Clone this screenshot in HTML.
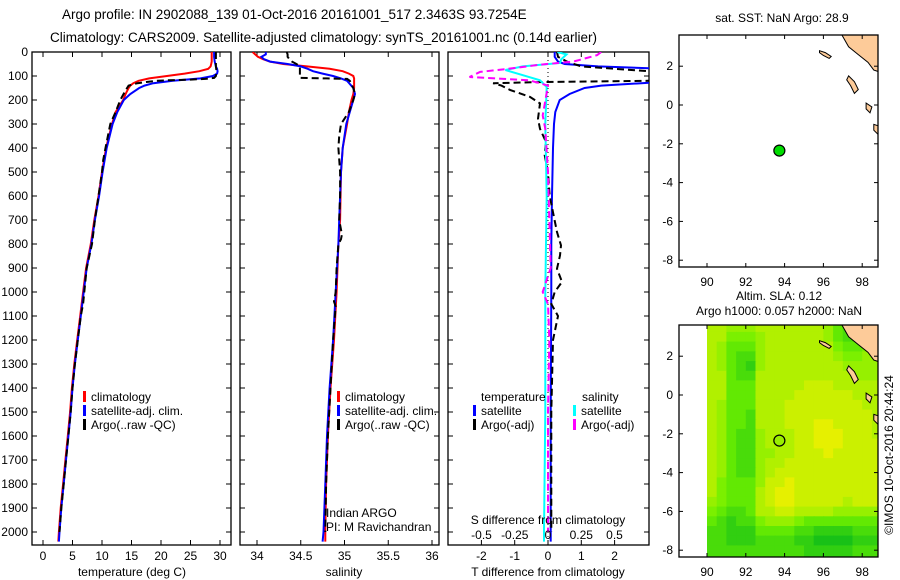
<!DOCTYPE html>
<html><head><meta charset="utf-8"><style>
html,body{margin:0;padding:0;background:#fff;}
svg{display:block;font-family:"Liberation Sans",sans-serif;}
</style></head><body>
<svg id="fig" width="900" height="580" viewBox="0 0 900 580" xmlns="http://www.w3.org/2000/svg">
<text x="62" y="19" font-size="13.5">Argo profile: IN 2902088_139 01-Oct-2016 20161001_517 2.3463S 93.7254E</text>
<text x="50" y="42" font-size="13.5">Climatology: CARS2009. Satellite-adjusted climatology: synTS_20161001.nc (0.14d earlier)</text>
<text transform="translate(893,455) rotate(-90)" text-anchor="middle" font-size="12">©IMOS 10-Oct-2016 20:44:24</text>
</svg>
<script>
// ---------- data ----------
const depthTicks=[0,100,200,300,400,500,600,700,800,900,1000,1100,1200,1300,1400,1500,1600,1700,1800,1900,2000];
const tempTicks=[0,5,10,15,20,25,30];
const salTicks=[34,34.5,35,35.5,36];
const tdiffTicks=[-2,-1,0,1,2];
const sdiffTicks=[-0.5,-0.25,0,0.25,0.5];
const sdiffTickLabels=["-0.5","-0.25","0","0.25","0.5"];
const lonTicks=[90,92,94,96,98];
const latTicks=[2,0,-2,-4,-6,-8];

const depthsT=[0,20,40,50,60,70,80,90,100,110,120,130,140,150,175,200,250,300,400,500,600,700,800,900,1000,1100,1200,1300,1400,1500,1600,1700,1800,1900,2000,2040];
const climT=[28.6,28.6,28.6,28.5,28.4,28.0,26.5,24,21,18,16.2,15.3,14.8,14.5,14.0,13.6,12.3,11.7,10.7,10.0,9.4,8.7,8.1,7.3,6.8,6.3,5.8,5.3,4.9,4.6,4.2,3.8,3.4,3.0,2.7,2.6];
const satT=[29.0,29.0,29.1,29.2,29.3,29.5,29.6,29.5,28.8,26.7,22,18.7,17.2,16.3,14.8,13.7,12.6,11.8,10.8,10.1,9.5,8.8,8.2,7.4,6.9,6.4,5.9,5.4,5.0,4.7,4.3,3.9,3.5,3.1,2.8,2.7];
const depthsArgoT=[0,20,40,60,80,100,108,112,115,118,120,125,130,140,160,200,250,300,350,400,450,500,600,700,800,900,1000,1050,1100,1200,1300,1400,1500,1600,1700,1800,1900,2000];
const argoT=[29.3,29.3,29.3,29.3,29.4,29.3,29.0,27.5,25,21,19.4,17.5,16,14.5,14.0,13.1,12.3,11.4,11.0,10.6,10.2,10.0,9.4,8.8,8.3,7.4,7.0,6.8,6.4,5.9,5.4,5.0,4.7,4.3,3.9,3.5,3.1,2.8];

const depthsS=[0,10,20,30,40,50,60,70,80,90,100,110,120,150,175,200,250,300,400,500,700,800,1000,1200,1400,1600,1800,2000,2040];
const climS=[33.95,33.98,34.01,34.07,34.15,34.3,34.57,34.83,34.98,35.05,35.1,35.11,35.11,35.11,35.1,35.08,35.05,35.03,34.98,34.96,34.95,34.93,34.91,34.88,34.84,34.81,34.79,34.78,34.78];
const satS=[34.1,34.1,34.05,34.08,34.15,34.35,34.5,34.58,34.64,34.75,34.87,34.96,35.03,35.1,35.12,35.1,35.06,35.02,34.98,34.96,34.94,34.93,34.9,34.87,34.83,34.8,34.78,34.76,34.75];
const depthsArgoS=[0,10,20,30,40,50,60,80,100,108,110,112,120,150,175,200,250,300,350,400,500,600,700,760,780,800,900,1000,1040,1060,1100,1200,1400,1600,1800,2000];
const argoS=[34.34,34.35,34.35,34.37,34.4,34.45,34.49,34.49,34.49,34.49,34.8,35.03,35.06,35.1,35.12,35.1,35.05,34.96,34.94,34.93,34.95,34.95,34.94,34.97,34.96,34.93,34.91,34.9,34.88,34.9,34.89,34.87,34.84,34.81,34.79,34.78];

const depthsSatDT=[0,20,40,50,60,70,80,90,100,110,120,130,140,150,175,200,250,300,400,600,800,1000,1500,2000,2040];
const satDT=[0.2,0.2,0.3,0.5,1.5,3.5,5,5,5,5,4,2.8,1.6,1.1,0.65,0.35,0.22,0.18,0.15,0.12,0.1,0.1,0.08,0.08,0.08];
const depthsArgoDT=[0,20,40,60,80,100,115,120,125,130,140,158,187,214,278,320,375,430,500,600,750,806,848,903,958,1000,1050,1100,1200,1500,2000];
const argoDT=[0.27,0.3,0.57,1,3,8,8,3,-0.1,-1.65,-1.4,-1.14,-0.54,-0.24,-0.3,-0.24,-0.06,-0.1,0,0.05,0.27,0.39,0.36,0.27,0.42,0.2,0.1,0.3,0.15,0.1,0.1];
const depthsSatDS=[0,10,30,46,60,75,90,118,146,300,600,1000,1500,2000,2040];
const satDS=[0.07,0.14,0.1,0.09,-0.19,-0.32,-0.23,-0.06,-0.01,-0.02,-0.01,-0.02,-0.02,-0.03,-0.03];
const depthsArgoDS=[0,13,40,53,70,83,104,118,140,264,320,500,700,900,1000,1050,1200,1500,2000];
const argoDS=[0.4,0.37,0.19,-0.06,-0.3,-0.51,-0.59,-0.14,0,-0.04,-0.02,0,0.01,0.02,-0.04,0.0,0.01,0.0,0.0];

const floatLon=93.73, floatLat=-2.35;
const slaLat0=3.5, slaLon0=90, slaStep=0.5;
const slaRows=[
"776667777777643333","775556777777643344","764446777777754455","764336777777765566",
"764326777777776666","774337777777777666","774447777788877777","774447777888888777",
"764447778888888877","764437778888888887","764437778889988887","764336777889998887",
"764336777889998888","764336677888988888","764336778888888888","764336788888888888",
"754446889888888888","754447899888888888","654447899888887888","543347788777766666",
"432335666544444444","332224444332222333","332223333221111222","333333333322222333",
"333333333322222333"];
const landPolys=[
[[96.9,3.7],[97.3,3.0],[97.8,2.6],[98.3,2.2],[98.6,1.8],[98.9,1.7],[98.9,3.7]],
[[95.8,2.8],[96.1,2.7],[96.4,2.5],[96.3,2.4],[96.0,2.55],[95.8,2.7]],
[[97.3,1.5],[97.6,1.2],[97.8,0.8],[97.6,0.6],[97.4,1.0],[97.2,1.3]],
[[98.2,0.1],[98.5,-0.1],[98.4,-0.4],[98.2,-0.2]],
[[98.6,-1.0],[98.9,-1.1],[98.9,-1.6],[98.6,-1.3]]];

// ---------- helpers ----------
const NS="http://www.w3.org/2000/svg";
const svg=document.getElementById('fig');
function mk(tag,attrs,parent){const e=document.createElementNS(NS,tag);for(const k in attrs)e.setAttribute(k,attrs[k]);(parent||svg).appendChild(e);return e;}
function txt(s,x,y,anchor,size,parent){const t=mk('text',{x:x,y:y,'text-anchor':anchor||'start','font-size':size||12},parent);t.textContent=s;return t;}
const yD=d=>52+d*0.24;
const PT=52,PB=545;
const xT=v=>43+v*5.9;
const xS=v=>257+(v-34)*87.5;
const xDT=v=>548+v*33.3;
const xDS=v=>548+v*133;

const defs=mk('defs',{});
function clip(id,x,y,w,h){const c=mk('clipPath',{id:id},defs);mk('rect',{x:x,y:y,width:w,height:h},c);}
clip('c1',32,52,199,493);clip('c2',240,52,199,493);clip('c3',448,52,201,493);
clip('cm1',679,35,199,232);clip('cm2',679,325,199,232);

function panelFrame(name,x0,x1){
  const r=mk('rect',{x:x0,y:PT,width:x1-x0,height:PB-PT,fill:'none',stroke:'#000','stroke-width':1.3});
  
  
  depthTicks.forEach(d=>{
    mk('line',{x1:x0,x2:x0+5,y1:yD(d),y2:yD(d),stroke:'#000'});
    mk('line',{x1:x1-5,x2:x1,y1:yD(d),y2:yD(d),stroke:'#000'});
  });
}
function xTicks(vals,fx){vals.forEach(v=>{const x=fx(v);mk('line',{x1:x,x2:x,y1:PT,y2:PT+5,stroke:'#000'});mk('line',{x1:x,x2:x,y1:PB-5,y2:PB,stroke:'#000'});});}
function line(name,xs,ds,fx,color,dash,clipId){
  const pts=xs.map((v,i)=>fx(v).toFixed(1)+','+yD(ds[i]).toFixed(1)).join(' ');
  const p=mk('polyline',{points:pts,fill:'none',stroke:color,'stroke-width':2,'clip-path':'url(#'+clipId+')'});
  if(dash)p.setAttribute('stroke-dasharray',dash);
  
  
}
function legendItem(name,x,y,color,label){
  const g=mk('g',{});
  
  
  mk('rect',{x:x,y:y-10,width:3,height:11,fill:color},g);
  txt(label,x+8,y,'start',12,g);
}

// ---------- panel 1: temperature ----------
panelFrame('temperature-panel',32,231);
xTicks(tempTicks,xT);
depthTicks.forEach(d=>{const t=txt(String(d),28,yD(d)+4,'end',12);});
tempTicks.forEach(v=>{const t=txt(String(v),xT(v),560,'middle',12);});
line('temp-climatology',climT,depthsT,xT,'#ff0000',null,'c1');
line('temp-satellite-adj',satT,depthsT,xT,'#0000ff',null,'c1');
line('temp-argo',argoT,depthsArgoT,xT,'#000',"7,4",'c1');
{const t=txt('temperature (deg C)',132,576,'middle',12);}
legendItem('legend-climatology',83,401,'#ff0000','climatology');
legendItem('legend-satellite-adj',83,415,'#0000ff','satellite-adj. clim.');
legendItem('legend-argo',83,429,'#000','Argo(..raw -QC)');

// ---------- panel 2: salinity ----------
panelFrame('salinity-panel',240,439);
xTicks(salTicks,xS);
salTicks.forEach(v=>{const t=txt(String(v),xS(v),560,'middle',12);});
line('sal-climatology',climS,depthsS,xS,'#ff0000',null,'c2');
line('sal-satellite-adj',satS,depthsS,xS,'#0000ff',null,'c2');
line('sal-argo',argoS,depthsArgoS,xS,'#000',"7,4",'c2');
{const t=txt('salinity',344,576,'middle',12);}
legendItem('legend-sal-climatology',337,401,'#ff0000','climatology');
legendItem('legend-sal-satellite-adj',337,415,'#0000ff','satellite-adj. clim.');
legendItem('legend-sal-argo',337,429,'#000','Argo(..raw -QC)');
{const t=txt('Indian ARGO',326,517,'start',12);}
{const t=txt('PI: M Ravichandran',326,531,'start',12);}

// ---------- panel 3: differences ----------
panelFrame('difference-panel',448,649);
xTicks(tdiffTicks,xDT);
mk('line',{x1:548,x2:548,y1:PT,y2:PB,stroke:'#000','stroke-dasharray':'1,3'});
line('tdiff-satellite',satDT,depthsSatDT,xDT,'#0000ff',null,'c3');
line('tdiff-argo',argoDT,depthsArgoDT,xDT,'#000',"7,4",'c3');
line('sdiff-satellite',satDS,depthsSatDS,xDS,'#00ffff',null,'c3');
line('sdiff-argo',argoDS,depthsArgoDS,xDS,'#ff00ff',"7,4",'c3');
tdiffTicks.forEach(v=>{const t=txt(String(v),xDT(v),560,'middle',12);});
sdiffTicks.forEach((v,i)=>{const t=txt(sdiffTickLabels[i],xDS(v),539,'middle',12);});
{const t=txt('S difference from climatology',548,524,'middle',12);}
{const t=txt('T difference from climatology',548,576,'middle',12);}
{const t=txt('temperature',481,401,'start',12);}
{const t=txt('salinity',582,401,'start',12);}
legendItem('legend-tdiff-satellite',473,415,'#0000ff','satellite');
legendItem('legend-tdiff-argo',473,429,'#000','Argo(-adj)');
legendItem('legend-sdiff-satellite',573,415,'#00ffff','satellite');
legendItem('legend-sdiff-argo',573,429,'#ff00ff','Argo(-adj)');

// ---------- maps ----------
const xLon=v=>707+(v-90)*19.4;
function mapPanel(name,y0,clipId,heat,dotFill){
  const yLat=v=>y0+105-v*19.4;
  const g=mk('g',{});
  
  
  if(heat){
    slaRows.forEach((row,r)=>{
      for(let c=0;c<row.length;c++){
        const v=+row[c]/9;
        let R,G,B;
        if(v<0.5){const t=v/0.5;R=0+110*t;G=180+60*t;B=30-30*t;}else{const t=(v-0.5)/0.5;R=110+120*t;G=240;B=0;}
        const lat=slaLat0-r*slaStep, lon=slaLon0+c*slaStep;
        const cell=mk('rect',{x:xLon(lon).toFixed(1),y:yLat(lat+0.25).toFixed(1),width:10.5,height:10.5,fill:'rgb('+R.toFixed(0)+','+G.toFixed(0)+','+B.toFixed(0)+')','clip-path':'url(#'+clipId+')'},g);
        
        
      }
    });
  }
  landPolys.forEach(poly=>{
    const p=mk('polygon',{points:poly.map(q=>xLon(q[0]).toFixed(1)+','+yLat(q[1]).toFixed(1)).join(' '),fill:'#fdcb99',stroke:'#000','stroke-width':1,'clip-path':'url(#'+clipId+')'},g);
    
    
  });
  mk('rect',{x:679,y:y0+35,width:199,height:232,fill:'none',stroke:'#000','stroke-width':1.3},g);
  lonTicks.forEach(v=>{const x=xLon(v);mk('line',{x1:x,x2:x,y1:y0+35,y2:y0+39,stroke:'#000'},g);mk('line',{x1:x,x2:x,y1:y0+263,y2:y0+267,stroke:'#000'},g);
    const t=txt(String(v),x,y0+286,'middle',12,g);});
  latTicks.forEach(v=>{const y=yLat(v);mk('line',{x1:679,x2:683,y1:y,y2:y,stroke:'#000'},g);mk('line',{x1:874,x2:878,y1:y,y2:y,stroke:'#000'},g);
    const t=txt(String(v),673,y+4,'end',12,g);});
  const dot=mk('circle',{cx:xLon(floatLon),cy:yLat(floatLat),r:5.5,fill:dotFill,stroke:'#000','stroke-width':1.2},g);
  
  
}
mapPanel('sst-map',0,'cm1',false,'#00dd00');
{const t=txt('sat. SST: NaN Argo: 28.9',782,22,'middle',12);}
mapPanel('sla-map',290,'cm2',true,'#99ee00');
{const t=txt('Altim. SLA: 0.12',779,300,'middle',12);}
{const t=txt('Argo h1000: 0.057 h2000: NaN',779,315,'middle',12);}
</script>
</body></html>
